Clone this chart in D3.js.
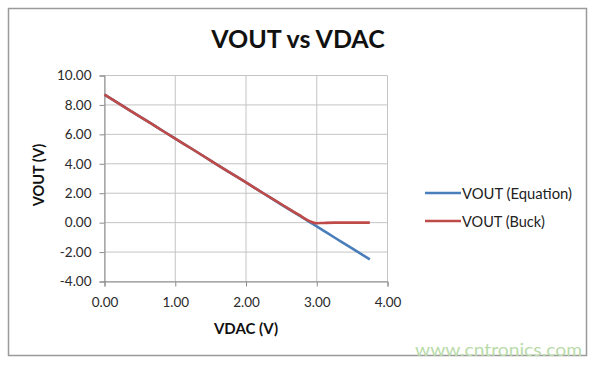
<!DOCTYPE html>
<html><head><meta charset="utf-8">
<script src="https://cdn.jsdelivr.net/npm/d3@7/dist/d3.min.js"></script>
<style>body{margin:0;background:#fff}svg{display:block}text{font-family:Lato,"Open Sans",sans-serif}</style>
</head><body>
<svg id="c" width="600" height="367"></svg>
<script>
const vdac = [0, 0.25, 0.5, 0.75, 1.0, 1.25, 1.5, 1.75, 2.0, 2.25, 2.5, 2.75, 2.9, 3.0, 3.1, 3.25, 3.5, 3.75];
const voutEquation = [8.70, 7.95, 7.21, 6.46, 5.71, 4.97, 4.22, 3.47, 2.73, 1.98, 1.23, 0.49, 0.04, -0.26, -0.56, -1.01, -1.75, -2.50];
const voutBuck     = [8.70, 7.95, 7.21, 6.46, 5.71, 4.97, 4.22, 3.47, 2.73, 1.98, 1.25, 0.52, 0.10, -0.04, -0.02, 0.00, 0.00, 0.00];
const xTicks = [0, 1, 2, 3, 4];
const yTicks = [-4, -2, 0, 2, 4, 6, 8, 10];
const seriesNames = ["VOUT (Equation)", "VOUT (Buck)"];
const colors = ["#4a7ebb", "#be4b48"];

const svg = d3.select("#c");
// outer border
svg.append("rect").attr("x", 8.5).attr("y", 8.5).attr("width", 578).attr("height", 347)
  .attr("fill", "#fff").attr("stroke", "#9a9a9a").attr("stroke-width", 1.5);

const x = d3.scaleLinear().domain([0, 4]).range([104.5, 387.5]);
const y = d3.scaleLinear().domain([-4, 10]).range([281.5, 75.5]);

// gridlines
svg.append("g").selectAll("line").data(yTicks).join("line")
  .attr("x1", x(0)).attr("x2", x(4)).attr("y1", d => y(d)).attr("y2", d => y(d))
  .attr("stroke", "#c4c4c4").attr("stroke-width", 1);
svg.append("g").selectAll("line").data(xTicks).join("line")
  .attr("y1", y(-4)).attr("y2", y(10)).attr("x1", d => x(d)).attr("x2", d => x(d))
  .attr("stroke", "#c4c4c4").attr("stroke-width", 1);

const fmt = d => d3.format(".2f")(d).replace("\u2212", "-");
const yAxis = svg.append("g").attr("transform", `translate(${x(0)},0)`)
  .call(d3.axisLeft(y).tickValues(yTicks).tickFormat(fmt).tickSize(5).tickPadding(8));
const xAxis = svg.append("g").attr("transform", `translate(0,${y(-4)})`)
  .call(d3.axisBottom(x).tickValues(xTicks).tickFormat(fmt).tickSize(5).tickPadding(11));
[yAxis, xAxis].forEach(a => {
  a.select(".domain").attr("stroke", "#8c8c8c");
  a.selectAll(".tick line").attr("stroke", "#8c8c8c");
  a.selectAll(".tick text").attr("fill", "#2a2a2a").attr("font-size", 13.5).attr("font-family", "Lato,'Open Sans',sans-serif");
});

const line = d3.line().x(d => x(d[0])).y(d => y(d[1])).curve(d3.curveMonotoneX);
const series = [voutEquation, voutBuck];
series.forEach((s, i) => {
  svg.append("path").datum(vdac.map((v, j) => [v, s[j]]))
    .attr("d", line).attr("fill", "none").attr("stroke", colors[i])
    .attr("stroke-width", 2.6).attr("stroke-linejoin", "round");
});

// titles
svg.append("text").attr("x", 298).attr("y", 48).attr("text-anchor", "middle")
  .attr("font-size", 25).attr("font-weight", "bold").attr("fill", "#111").text("VOUT vs VDAC");
svg.append("text").attr("x", 246).attr("y", 334).attr("text-anchor", "middle")
  .attr("font-size", 15).attr("font-weight", "bold").attr("fill", "#111").text("VDAC (V)");
svg.append("text").attr("transform", "translate(44,175) rotate(-90)").attr("text-anchor", "middle")
  .attr("font-size", 14.5).attr("font-weight", "bold").attr("fill", "#111").text("VOUT (V)");

// legend
const legendWidths = [110, 83];
const lg = svg.append("g").selectAll("g").data(seriesNames).join("g")
  .attr("transform", (d, i) => `translate(425,${193 + i * 28})`);
lg.append("line").attr("x1", 0).attr("x2", 36).attr("stroke", (d, i) => colors[i]).attr("stroke-width", 2.6);
lg.append("text").attr("x", 37).attr("y", 5.5).attr("font-size", 15.5).attr("fill", "#222")
  .attr("textLength", (d, i) => legendWidths[i]).attr("lengthAdjust", "spacingAndGlyphs").text(d => d);

// watermark
svg.append("text").attr("x", 415).attr("y", 356)
  .attr("font-size", 17).attr("textLength", 167).attr("lengthAdjust", "spacingAndGlyphs")
  .attr("fill", "#b9dba9").attr("font-family", "'Liberation Sans',Arial,sans-serif").text("www.cntronics.com");
</script>
</body></html>
